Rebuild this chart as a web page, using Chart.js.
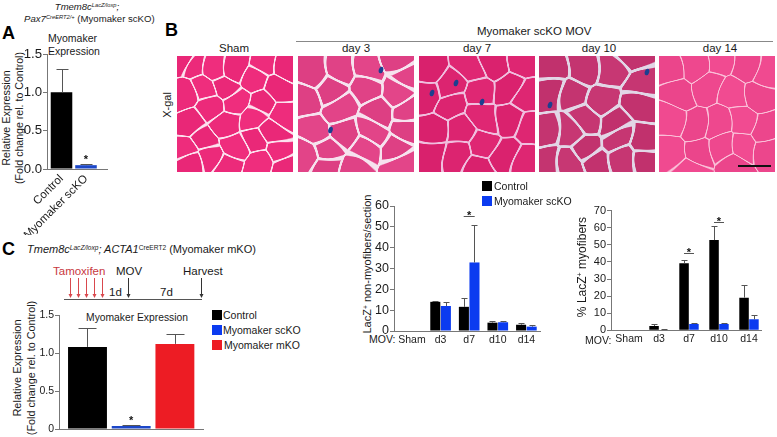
<!DOCTYPE html>
<html>
<head>
<meta charset="utf-8">
<script src="https://cdn.jsdelivr.net/npm/chart.js@4"></script>
<style>
  html, body { margin: 0; padding: 0; background: #fff; }
  body { position: relative; width: 777px; height: 437px; overflow: hidden; font-family: "Liberation Sans", Arial, sans-serif; color: #1a1a1a; font-size: 11.5px; }
  canvas { position: absolute; }
  .t { position: absolute; white-space: nowrap; transform: translateY(-50%); }
  .c { position: absolute; white-space: nowrap; transform: translate(-50%, -50%); }
  .r { position: absolute; white-space: nowrap; transform: translate(-50%, -50%) rotate(-90deg); }
  .bold { font-weight: bold; font-size: 18px; color: #000; }
  .box { position: absolute; width: 10px; height: 10px; }
  .ln { position: absolute; }
  .micro { filter: blur(0.45px); }
  sup { font-size: 0.6em; line-height: 0; vertical-align: 0.5em; }
</style>
</head>
<body>
<div class="c" style="left:87px;top:6px;font-size:9.5px"><i>Tmem8c<sup>LacZ/loxp</sup>;</i></div>
<div class="t" style="left:24px;top:18px;font-size:9.6px"><i>Pax7<sup>CreERT2/+</sup></i> (Myomaker scKO)</div>
<div class="t bold" style="left:2px;top:33px">A</div>
<div class="t" style="left:48px;top:38px;font-size:10.5px">Myomaker</div>
<div class="t" style="left:48px;top:51px;font-size:10.5px">Expression</div>
<div class="r" style="left:6px;top:118px;font-size:10.8px">Relative Expression</div>
<div class="r" style="left:19px;top:118px;font-size:10.6px">(Fold change rel. to Control)</div>
<canvas id="chartA" width="115" height="195" style="left:0;top:40px"></canvas>

<div class="t bold" style="left:165px;top:30px">B</div>
<div class="t" style="left:477px;top:31px">Myomaker scKO MOV</div>
<div class="ln" style="left:296px;top:41px;width:477px;height:1px;background:#888"></div>
<div class="c" style="left:234px;top:48px">Sham</div>
<div class="c" style="left:356px;top:48px">day 3</div>
<div class="c" style="left:477px;top:48px">day 7</div>
<div class="c" style="left:599px;top:48px">day 10</div>
<div class="c" style="left:720px;top:48px">day 14</div>
<div class="r" style="left:167px;top:105px;font-size:11px">X-gal</div>
<canvas class="micro" id="p0" width="116" height="116" style="left:177px;top:56px"></canvas>
<canvas class="micro" id="p1" width="116" height="116" style="left:298px;top:56px"></canvas>
<canvas class="micro" id="p2" width="116" height="116" style="left:419px;top:56px"></canvas>
<canvas class="micro" id="p3" width="116" height="116" style="left:539px;top:56px"></canvas>
<canvas class="micro" id="p4" width="116" height="116" style="left:659px;top:56px"></canvas>
<div class="ln" style="left:738px;top:165px;width:33px;height:1.5px;background:#111"></div>

<div class="box" style="left:482px;top:181px;background:#000"></div>
<div class="t" style="left:494px;top:186px;font-size:10.5px">Control</div>
<div class="box" style="left:482px;top:196px;background:#0b3bf0"></div>
<div class="t" style="left:494px;top:201px;font-size:10.5px">Myomaker scKO</div>
<div class="r" style="left:367px;top:264px;font-size:11px">LacZ<sup>+</sup> non-myofibers/section</div>
<div class="t" style="left:369px;top:339px;font-size:10.5px">MOV:</div>
<canvas id="chartMid" width="205" height="155" style="left:340px;top:195px"></canvas>
<div class="r" style="left:582px;top:267px;font-size:12px">% LacZ<sup>+</sup> myofibers</div>
<div class="t" style="left:585px;top:340px;font-size:10.5px">MOV:</div>
<canvas id="chartRight" width="205" height="150" style="left:560px;top:200px"></canvas>

<div class="t bold" style="left:2px;top:249px">C</div>
<div class="t" style="left:27px;top:249px;font-size:11px"><i>Tmem8c<sup>LacZ/loxp</sup>; ACTA1</i><sup>CreERT2</sup> (Myomaker mKO)</div>
<div class="t" style="left:53px;top:271px;color:#c8383e">Tamoxifen</div>
<div class="t" style="left:116px;top:271px">MOV</div>
<div class="t" style="left:183px;top:271px">Harvest</div>
<div class="t" style="left:109px;top:292px">1d</div>
<div class="t" style="left:160px;top:292px">7d</div>
<canvas id="timeline" width="170" height="30" style="left:55px;top:275px"></canvas>
<div class="c" style="left:137px;top:317px;font-size:10.3px">Myomaker Expression</div>
<div class="r" style="left:17px;top:368px;font-size:11px">Relative Expression</div>
<div class="r" style="left:31px;top:368px;font-size:10.8px">(Fold change rel. to Control)</div>
<canvas id="chartC" width="183" height="132" style="left:25px;top:305px"></canvas>
<div class="box" style="left:212px;top:310px;background:#000"></div>
<div class="t" style="left:223px;top:315px;font-size:10.5px">Control</div>
<div class="box" style="left:212px;top:325px;background:#0b3bf0"></div>
<div class="t" style="left:223px;top:330px;font-size:10.5px">Myomaker scKO</div>
<div class="box" style="left:212px;top:340px;background:#ed1c24"></div>
<div class="t" style="left:224px;top:345px;font-size:10.5px">Myomaker mKO</div>

<script>
const FONT = '"Liberation Sans", Arial, sans-serif';
const BLACK = '#000000';
const BLUE = '#0b3bf0';
const RED = '#ed1c24';

// panel A
const aLabels = ['Control', 'Myomaker scKO'];
const aValues = [1.0, 0.05];
const aTops = [1.31, 0.06];
const aTicks = [0, 0.5, 1, 1.5];

// panel B, LacZ+ non-myofibers
const days = ['Sham', 'd3', 'd7', 'd10', 'd14'];
const midControl = [0, 14, 11.6, 4, 3];
const midControlTops = [0, 14.6, 16, 5, 4];
const midKO = [0, 12, 32.9, 4.2, 2.1];
const midKOTops = [0, 13.7, 50.7, 4.6, 2.9];
const midTicks = [0, 10, 20, 30, 40, 50, 60];

// panel B, % LacZ+ myofibers
const rightControl = [0, 2.5, 39.2, 52.8, 19.1];
const rightControlTops = [0, 3.5, 41, 61, 26.3];
const rightKO = [0, 0.3, 3.7, 3.7, 6.4];
const rightKOTops = [0, 0.5, 4.3, 4.3, 8.8];
const rightTicks = [0, 10, 20, 30, 40, 50, 60, 70];

// panel C
const cValues = [1.08, 0.04, 1.12];
const cTops = [1.33, 0.05, 1.25];
const cTicks = [0, 0.5, 1, 1.5];

// error bars and significance marks
const extras = {
  id: 'extras',
  afterDatasetsDraw(chart, args, opts) {
    const ctx = chart.ctx;
    const yScale = chart.scales.y, xScale = chart.scales.x;
    ctx.save();
    ctx.strokeStyle = '#555';
    ctx.lineWidth = 1;
    chart.data.datasets.forEach((ds, d) => {
      chart.getDatasetMeta(d).data.forEach((bar, i) => {
        if (!ds.tops[i]) return;
        const top = Math.round(yScale.getPixelForValue(ds.tops[i])) + 0.5;
        const x = Math.round(bar.x) + 0.5;
        ctx.beginPath();
        ctx.moveTo(x, bar.y);
        ctx.lineTo(x, top);
        ctx.moveTo(x - opts.cap, top);
        ctx.lineTo(x + opts.cap, top);
        ctx.stroke();
      });
    });
    ctx.fillStyle = '#111';
    ctx.textAlign = 'center';
    ctx.textBaseline = 'alphabetic';
    ctx.font = 'bold 11px ' + FONT;
    (opts.stars || []).forEach(s => {
      const x = xScale.getPixelForValue(s.at);
      const y = yScale.getPixelForValue(s.y);
      if (s.bracket) {
        ctx.beginPath();
        ctx.moveTo(x - s.bracket, Math.round(y) + 0.5);
        ctx.lineTo(x + s.bracket, Math.round(y) + 0.5);
        ctx.stroke();
      }
      ctx.fillText('*', x, y + 3);
    });
    ctx.restore();
  }
};

// x runs on a linear scale so the bars can sit where the figure has them
function barChart(id, o) {
  return new Chart(document.getElementById(id), {
    type: 'bar',
    data: {
      datasets: o.series.map(s => ({
        data: s.values.map((v, i) => ({ x: i + 1, y: v })),
        tops: s.tops,
        backgroundColor: s.colors,
        borderColor: '#1a1a1a',
        borderWidth: 0,
        categoryPercentage: o.catPct,
        barPercentage: o.barPct
      }))
    },
    plugins: [extras],
    options: {
      responsive: false,
      animation: false,
      layout: { autoPadding: false, padding: { top: o.padTop, right: o.padRight, left: 0, bottom: 0 } },
      plugins: {
        legend: { display: false },
        tooltip: { enabled: false },
        extras: { cap: o.cap, stars: o.stars }
      },
      scales: {
        x: {
          type: 'linear',
          offset: false,
          min: o.xMin,
          max: o.xMax,
          afterFit: s => { s.height = o.xHeight; },
          afterBuildTicks: s => { s.ticks = o.labels.map((l, i) => ({ value: i + 1 })); },
          grid: { offset: false, drawOnChartArea: false, drawTicks: false },
          border: { color: '#777' },
          ticks: {
            display: o.labels.some(l => l),
            autoSkip: false,
            padding: 3,
            minRotation: o.rotate || 0,
            maxRotation: o.rotate || 0,
            color: '#1a1a1a',
            font: { family: FONT, size: o.xFont },
            callback: v => o.labels[v - 1]
          }
        },
        y: {
          min: 0,
          max: o.yTicks[o.yTicks.length - 1],
          afterFit: s => { s.width = o.yWidth; },
          afterBuildTicks: s => { s.ticks = o.yTicks.map(v => ({ value: v })); },
          grid: { drawOnChartArea: false, tickLength: 4, tickColor: '#777' },
          border: { color: '#777' },
          ticks: {
            padding: 1,
            color: '#1a1a1a',
            font: { family: FONT, size: o.yFont },
            callback: o.yFormat
          }
        }
      }
    }
  });
}

barChart('chartA', {
  labels: aLabels,
  series: [{ values: aValues, tops: aTops, colors: [BLACK, '#1c47c8'] }],
  yTicks: aTicks, yFormat: v => v.toFixed(1), yWidth: 47, xHeight: 66,
  padTop: 14, padRight: 8, xMin: 0.408, xMax: 2.857, catPct: 0.88, barPct: 1, cap: 6,
  rotate: 45, xFont: 11.5, yFont: 13.2,
  stars: [{ at: 2, y: 0.12 }]
});

barChart('chartMid', {
  labels: days,
  series: [
    { values: midControl, tops: midControlTops, colors: BLACK },
    { values: midKO, tops: midKOTops, colors: BLUE }
  ],
  yTicks: midTicks, yFormat: v => v, yWidth: 54, xHeight: 19,
  padTop: 11, padRight: 5, xMin: 0.371, xMax: 5.476, catPct: 0.74, barPct: 0.95, cap: 3,
  xFont: 10.5, yFont: 12.5,
  stars: [{ at: 3, y: 55, bracket: 5.5 }]
});

barChart('chartRight', {
  labels: days,
  series: [
    { values: rightControl, tops: rightControlTops, colors: BLACK },
    { values: rightKO, tops: rightKOTops, colors: BLUE }
  ],
  yTicks: rightTicks, yFormat: v => v, yWidth: 51, xHeight: 19.7,
  padTop: 10.7, padRight: 4, xMin: 0.4, xMax: 5.4, catPct: 0.66, barPct: 0.96, cap: 3,
  xFont: 10.5, yFont: 11,
  stars: [{ at: 3, y: 45.4, bracket: 5 }, { at: 4, y: 63.2, bracket: 5 }]
});

barChart('chartC', {
  labels: ['', '', ''],
  series: [{ values: cValues, tops: cTops, colors: [BLACK, '#1c47c8', RED] }],
  yTicks: cTicks, yFormat: v => (v === 0 ? '0' : v.toFixed(1)), yWidth: 34, xHeight: 8,
  padTop: 10, padRight: 5, xMin: 0.348, xMax: 3.643, catPct: 0.89, barPct: 1, cap: 9,
  xFont: 10, yFont: 10.5,
  stars: [{ at: 2, y: 0.1 }]
});

// timeline arrows in panel C
(function () {
  const ctx = document.getElementById('timeline').getContext('2d');
  const arrow = (x, color) => {
    ctx.strokeStyle = ctx.fillStyle = color;
    ctx.beginPath();
    ctx.moveTo(x + 0.5, 3);
    ctx.lineTo(x + 0.5, 20);
    ctx.stroke();
    ctx.beginPath();
    ctx.moveTo(x - 1.5, 19);
    ctx.lineTo(x + 2.5, 19);
    ctx.lineTo(x + 0.5, 23);
    ctx.fill();
  };
  [15, 23, 31, 39, 47].forEach(x => arrow(x, '#d9484d'));
  [73, 146].forEach(x => arrow(x, '#333'));
  ctx.strokeStyle = '#555';
  ctx.beginPath();
  ctx.moveTo(9, 24.5);
  ctx.lineTo(147, 24.5);
  ctx.stroke();
})();

// micrographs, a rough cell pattern from fibre centres
const panels = [
  { seeds: [[7,7],[18,12],[37,12],[60,10],[87,8],[110,7],[6,36],[26,32],[47,30],[78,22],[100,35],[34,50],[55,44],[84,50],[105,56],[14,72],[50,64],[78,62],[95,78],[8,92],[24,85],[30,100],[58,90],[78,85],[100,95],[12,108],[50,108],[80,108],[108,108]],
    color: [236, 42, 122], rim: [252, 225, 238], edge: 0.9, dots: [] },
  { seeds: [[13,14],[45,14],[68,14],[102,2],[108,19],[32,32],[65,32],[98,34],[7,47],[42,51],[82,57],[110,54],[17,72],[45,77],[75,76],[108,71],[28,92],[65,96],[95,91],[7,102],[28,109],[58,111],[102,106]],
    color: [224, 66, 134], rim: [246, 226, 238], edge: 1.8, dots: [[32.5, 74], [83, 14]] },
  { seeds: [[10,8],[30,30],[50,12],[75,6],[103,8],[8,40],[32,50],[60,35],[88,30],[108,40],[15,70],[40,75],[65,60],[90,62],[110,75],[12,100],[38,100],[62,88],[85,98],[108,105],[62,112]],
    color: [220, 36, 112], rim: [240, 190, 222], edge: 1.2, dots: [[13, 37], [37, 27], [63, 46]] },
  { seeds: [[14,11],[41,11],[74,14],[90,3],[101,27],[11,37],[34,39],[64,44],[101,49],[46,61],[73,67],[8,77],[28,77],[48,91],[78,82],[104,84],[8,104],[31,107],[58,104],[84,104],[108,106]],
    color: [196, 52, 112], rim: [226, 214, 230], edge: 2, dots: [[11, 49], [108, 16]] },
  { seeds: [[10,15],[35,8],[60,6],[85,10],[108,15],[20,35],[50,30],[75,38],[100,38],[12,65],[35,68],[58,68],[82,65],[105,70],[15,95],[40,95],[65,92],[85,90],[108,95],[30,112],[75,112]],
    color: [238, 72, 142], rim: [250, 190, 215], edge: 0.5, dots: [] }
];

panels.forEach((p, n) => {
  const ctx = document.getElementById('p' + n).getContext('2d');
  const img = ctx.createImageData(116, 116);
  for (let y = 0; y < 116; y++) {
    for (let x = 0; x < 116; x++) {
      // bend the straight cell walls a little
      const wx = x + 2.5 * Math.sin(y / 9 + n);
      const wy = y + 2.5 * Math.sin(x / 11 + n * 2);
      let d1 = 1e9, d2 = 1e9, near = 0;
      p.seeds.forEach((s, i) => {
        const d = Math.hypot(wx - s[0], wy - s[1]);
        if (d < d1) { d2 = d1; d1 = d; near = i; } else if (d < d2) { d2 = d; }
      });
      const w = Math.max(0, Math.min(1, 1 - (d2 - d1 - p.edge) / 1.2));
      const shade = ((near * 7) % 5) * 1.5 - 3;
      const k = (x + y * 116) * 4;
      for (let c = 0; c < 3; c++) {
        const base = p.color[c] + shade;
        img.data[k + c] = base + (p.rim[c] - base) * w;
      }
      img.data[k + 3] = 255;
    }
  }
  ctx.putImageData(img, 0, 0);
  ctx.fillStyle = '#1c3f8f';
  p.dots.forEach(d => {
    ctx.beginPath();
    ctx.ellipse(d[0], d[1], 2.2, 3.4, 0.3, 0, Math.PI * 2);
    ctx.fill();
  });
});
</script>
</body>
</html>
